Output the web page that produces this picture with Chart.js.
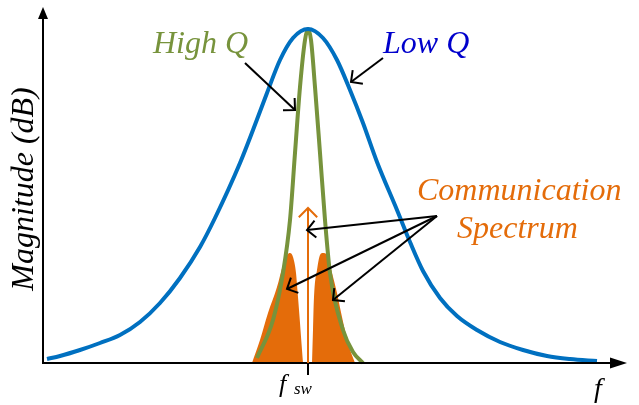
<!DOCTYPE html>
<html>
<head>
<meta charset="utf-8">
<script src="https://cdn.jsdelivr.net/npm/chart.js@4.4.1/dist/chart.umd.min.js"></script>
<style>
  body { margin: 0; background: #fff; }
</style>
</head>
<body>
<canvas id="resonance-chart" width="639" height="405"></canvas>
<script>
// frequency / magnitude samples (arbitrary linear units)
const lowQFreq = [4, 17, 37, 57, 77, 97, 117, 137, 157, 172, 197, 210, 224, 237, 250, 265,
    280, 294, 307, 320, 334, 354, 367, 380, 397, 414, 434, 457, 480, 504, 527, 554];
const lowQMag = [4, 7, 13, 20, 28, 41, 60, 85, 116, 145, 200, 233, 270, 303, 325, 334,
    325, 303, 273, 240, 201, 153, 121, 92, 65, 47, 33, 21, 13, 7, 4, 2];

const highQFreq = [214, 230, 240, 247, 252, 257, 262, 265, 268, 272, 277, 282, 287, 300, 310, 320];
const highQMag = [5, 43, 90, 143, 210, 276, 323, 334, 323, 276, 210, 143, 90, 33, 11, 0];

const specLowFreq = [209, 217, 225, 234, 240, 244, 247, 250, 253, 255, 257, 259, 260];
const specLowMag = [0, 23, 50, 76, 98, 108, 110, 106, 90, 66, 40, 13, 0];

const specHighFreq = [269, 270, 271, 274, 277, 280, 284, 289, 294, 299, 305, 312];
const specHighMag = [0, 33, 66, 93, 108, 110, 108, 90, 70, 46, 20, 0];

const fSw = 265;
const carrierMag = 155;
const freqMax = 584;
const magMax = 356;

const orange = "#E46C0A";
const blue = "#0070C0";
const green = "#77933C";

function pairs(xs, ys) {
    return xs.map(function (x, i) { return { x: x, y: ys[i] }; });
}

// axes, carrier arrow, pointers and labels
const sketchPlugin = {
    id: "sketch",
    afterDatasetsDraw: function (chart) {
        const c = chart.ctx;
        const sx = chart.scales.x;
        const sy = chart.scales.y;
        const px = function (v) { return sx.getPixelForValue(v); };
        const py = function (v) { return sy.getPixelForValue(v); };

        function openHead(x1, y1, x2, y2, len) {
            const a = Math.atan2(y1 - y2, x1 - x2);
            c.beginPath();
            c.moveTo(x2 + len * Math.cos(a + Math.PI / 4), y2 + len * Math.sin(a + Math.PI / 4));
            c.lineTo(x2, y2);
            c.lineTo(x2 + len * Math.cos(a - Math.PI / 4), y2 + len * Math.sin(a - Math.PI / 4));
            c.stroke();
        }

        c.save();
        c.lineCap = "butt";

        // axes
        const x0 = px(0), y0 = py(0);
        c.strokeStyle = "#000";
        c.fillStyle = "#000";
        c.lineWidth = 2;
        c.beginPath();
        c.moveTo(x0, y0);
        c.lineTo(px(freqMax) - 12, y0);
        c.moveTo(x0, y0 + 1);
        c.lineTo(x0, py(magMax) + 10);
        c.stroke();
        c.beginPath();
        c.moveTo(px(freqMax), y0);
        c.lineTo(px(freqMax) - 17, y0 - 5.5);
        c.lineTo(px(freqMax) - 17, y0 + 5.5);
        c.closePath();
        c.fill();
        c.beginPath();
        c.moveTo(x0, py(magMax));
        c.lineTo(x0 - 5, py(magMax) + 12);
        c.lineTo(x0 + 5, py(magMax) + 12);
        c.closePath();
        c.fill();

        // f_sw tick
        c.beginPath();
        c.moveTo(px(fSw), y0);
        c.lineTo(px(fSw), y0 + 12);
        c.stroke();

        // carrier arrow
        c.strokeStyle = orange;
        c.lineWidth = 2;
        c.beginPath();
        c.moveTo(px(fSw), y0);
        c.lineTo(px(fSw), py(carrierMag));
        c.stroke();
        openHead(px(fSw), y0, px(fSw), py(carrierMag), 13);

        // pointers
        const pointers = [
            [202, 300, 252, 253],
            [340, 305, 308, 281],
            [394, 147, 264, 133],
            [394, 147, 244, 74],
            [394, 147, 290, 63]
        ];
        c.strokeStyle = "#000";
        c.lineWidth = 2;
        pointers.forEach(function (p) {
            c.beginPath();
            c.moveTo(px(p[0]), py(p[1]));
            c.lineTo(px(p[2]), py(p[3]));
            c.stroke();
            openHead(px(p[0]), py(p[1]), px(p[2]), py(p[3]), 12);
        });

        // labels
        c.textAlign = "left";
        c.textBaseline = "alphabetic";
        c.font = 'italic 32px "Liberation Serif"';
        c.fillStyle = green;
        c.fillText("High Q", px(110), py(310));
        c.fillStyle = "#0000CC";
        c.fillText("Low Q", px(340), py(310));
        c.fillStyle = orange;
        c.fillText("Communication", px(374), py(163));
        c.fillText("Spectrum", px(414), py(125));

        c.fillStyle = "#000";
        c.font = 'italic 26px "Liberation Serif"';
        c.fillText("f", px(236), py(-29));
        c.font = 'italic 17px "Liberation Serif"';
        c.fillText("sw", px(251), py(-31));
        c.font = 'italic 28px "Liberation Serif"';
        c.textAlign = "center";
        c.fillText("f", px(555), py(-34));

        c.translate(px(-10), py(174));
        c.rotate(-Math.PI / 2);
        c.font = 'italic 32px "Liberation Serif"';
        c.fillText("Magnitude (dB)", 0, 0);
        c.restore();
    }
};

const ctx = document.getElementById("resonance-chart");
const resonanceChart = new Chart(ctx, {
    type: "line",
    data: {
        datasets: [
            {
                label: "Low Q",
                data: pairs(lowQFreq, lowQMag),
                borderColor: blue,
                borderWidth: 4,
                order: 1
            },
            {
                label: "High Q",
                data: pairs(highQFreq, highQMag),
                borderColor: green,
                borderWidth: 4,
                order: 2
            },
            {
                label: "Spectrum (lower)",
                data: pairs(specLowFreq, specLowMag),
                borderWidth: 0,
                borderColor: orange,
                backgroundColor: orange,
                fill: "origin",
                order: 3
            },
            {
                label: "Spectrum (upper)",
                data: pairs(specHighFreq, specHighMag),
                borderWidth: 0,
                borderColor: orange,
                backgroundColor: orange,
                fill: "origin",
                order: 4
            }
        ]
    },
    options: {
        responsive: false,
        animation: false,
        layout: { padding: { left: 43, right: 12, top: 7, bottom: 42 } },
        elements: {
            point: { radius: 0 },
            line: { tension: 0.4, cubicInterpolationMode: "monotone", capBezierPoints: true }
        },
        datasets: { line: { clip: false } },
        scales: {
            x: { type: "linear", min: 0, max: freqMax, display: false },
            y: { type: "linear", min: 0, max: magMax, display: false }
        },
        plugins: {
            legend: { display: false },
            tooltip: { enabled: false }
        }
    },
    plugins: [sketchPlugin]
});
</script>
</body>
</html>
